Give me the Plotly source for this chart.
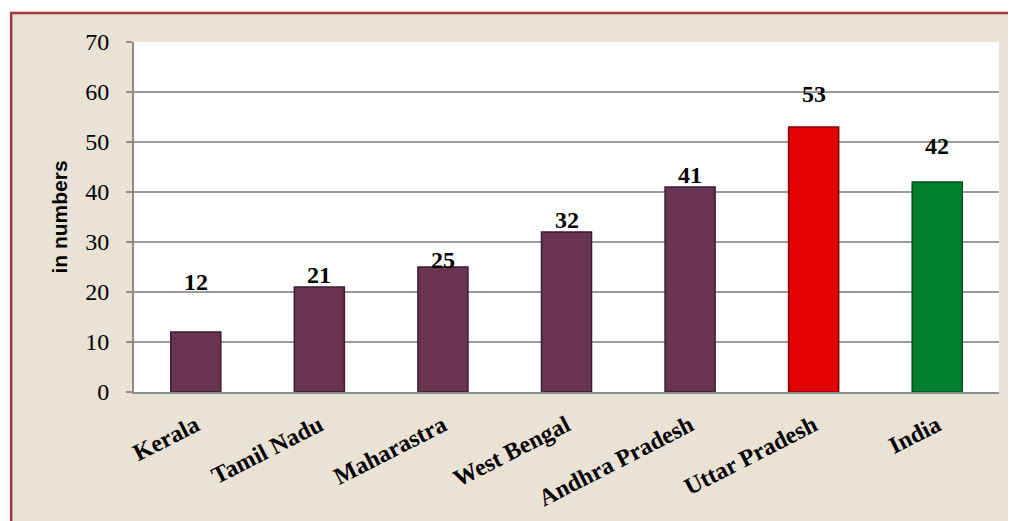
import plotly.graph_objects as go

states = ["Kerala", "Tamil Nadu", "Maharastra", "West Bengal",
          "Andhra Pradesh", "Uttar Pradesh", "India"]
values = [12, 21, 25, 32, 41, 53, 42]
y_ticks = [0, 10, 20, 30, 40, 50, 60, 70]

# label offsets above bar tops (px), as placed in the original
label_shift = [50, 12, 7, 12, 12, 33, 36]

colors = ["#68344f"] * 5 + ["#e30000", "#007f2e"]
edges = ["#3a1d2f"] * 5 + ["#8a0000", "#004d1c"]

fig = go.Figure()
fig.add_trace(go.Bar(
    x=states, y=values, width=0.405,
    marker=dict(color=colors, line=dict(color=edges, width=1.5)),
    hoverinfo="x+y",
))

for s, v, sh in zip(states, values, label_shift):
    fig.add_annotation(x=s, y=v, text="<b>%d</b>" % v, showarrow=False,
                       yanchor="middle", yshift=sh,
                       font=dict(family="Liberation Serif", size=24, color="black"))

# beige background with the dark red frame, white plot area on top of it
fig.add_shape(type="rect", xref="paper", yref="paper",
              x0=-0.142, x1=1.03, y0=-0.42, y1=1.083,
              fillcolor="#e9e2d5", line=dict(color="#a33b3b", width=2.5),
              layer="below")
fig.add_shape(type="rect", xref="paper", yref="paper",
              x0=0, x1=1, y0=0, y1=1,
              fillcolor="white", line=dict(width=0), layer="below")

# page body adds 8px, so the figure is 8px smaller than the window
fig.update_layout(
    width=1008, height=513,
    margin=dict(l=126, r=17, t=34, b=129),
    paper_bgcolor="white", plot_bgcolor="white",
    showlegend=False,
    font=dict(family="Liberation Serif", color="black"),
    xaxis=dict(
        automargin=False,
        tickangle=-27, ticks="outside", ticklen=8, tickcolor="rgba(0,0,0,0)",
        tickfont=dict(family="Liberation Serif", size=24, color="black", weight="bold"),
        showline=True, linecolor="#8c8c8c", linewidth=2, showgrid=False,
    ),
    yaxis=dict(
        automargin=False,
        range=[0, 70], tickvals=y_ticks, ticks="outside", ticklen=6,
        tickcolor="#8c8c8c", tickwidth=2, ticklabelstandoff=12,
        tickfont=dict(family="Liberation Serif", size=24, color="black"),
        showgrid=True, gridcolor="#9a9a9a", gridwidth=2,
        showline=True, linecolor="#8c8c8c", linewidth=2, zeroline=False,
        title=dict(text="<b>in numbers</b>", standoff=12,
                   font=dict(family="Liberation Sans", size=21, color="black")),
    ),
)

fig.write_html("out.html")
